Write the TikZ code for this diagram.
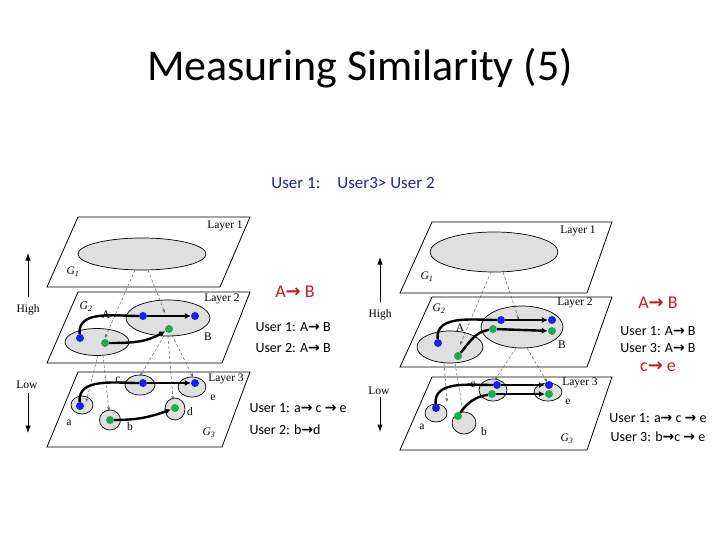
\documentclass[tikz,border=0pt]{standalone}
\usepackage{fontspec}
\setmainfont{Liberation Serif}
\newfontfamily\slidefont{Carlito}
\newfontfamily\symbfont{DejaVu Sans}
\usetikzlibrary{arrows.meta,shapes.geometric}
\tikzset{>=Latex}
\definecolor{dotblue}{RGB}{30,30,230}
\definecolor{dotgreen}{RGB}{30,170,80}
\definecolor{headblue}{RGB}{35,35,160}
\definecolor{slidered}{RGB}{190,30,40}
\newcommand\tto{{\symbfont\bfseries\char"2192}}
\tikzset{
  plane/.style = {draw, line width=0.8pt, fill=white},
  grp/.style = {ellipse, draw, fill=gray!25, line width=0.7pt, inner sep=0pt},
  bdot/.style = {circle, fill=dotblue, inner sep=0pt, minimum size=8pt},
  gdot/.style = {bdot, fill=dotgreen},
  flow/.style = {->, line width=2.4pt, >={Latex[length=6pt,width=6pt]}},
  proj/.style = {->, densely dashed, gray!80!black, line width=0.5pt, >={Stealth[length=4pt,width=3pt]}},
  lbl/.style = {font=\fontsize{11.5}{13}\selectfont},
  note/.style = {font=\slidefont\fontsize{14}{16}\selectfont},
  hint/.style = {font=\slidefont\fontsize{18}{20}\selectfont, text=slidered}
}

\begin{document}
\begin{tikzpicture}[x=1pt,y=-1pt]
  \useasboundingbox (0,0) rectangle (720,540);
  % title
  \node[font=\slidefont\fontsize{44}{50}\selectfont] (title) at (360,68) {Measuring Similarity (5)};
  \node[font=\slidefont\fontsize{17}{19}\selectfont, text=headblue] (rank) at (353,183) {User 1:\quad User3> User 2};

  %%% left figure
  % layers
  \draw[plane] (78,217) -- (250,217) -- (220,287) -- (47,287) -- cycle;
  \draw[plane] (78,292) -- (250,292) -- (222,363) -- (47,363) -- cycle;
  \draw[plane] (78,372) -- (250,372) -- (222,447) -- (47,447) -- cycle;
  \node[lbl] (l1) at (225,226) {Layer 1};
  \node[lbl] (l2) at (222,299) {Layer 2};
  \node[lbl] (l3) at (226,379) {Layer 3};
  \node[lbl] (g1) at (73,272) {\textit{G}\textsubscript{\textit{1}}};
  \node[lbl] (g2) at (86,307) {\textit{G}\textsubscript{\textit{2}}};
  \node[lbl] (g3) at (209,433) {\textit{G}\textsubscript{\textit{3}}};
  % groups
  \node[grp, minimum width=128pt, minimum height=32pt] (top) at (142,254) {};
  \node[grp, minimum width=64pt, minimum height=27pt] (ga) at (97,342) {};
  \node[grp, minimum width=84pt, minimum height=36pt] (gb) at (168,318) {};
  \node[grp, minimum width=30pt, minimum height=20pt] (gc) at (140,385) {};
  \node[grp, minimum width=28pt, minimum height=20pt] (ge) at (192,387) {};
  \node[grp, minimum width=22pt, minimum height=18pt] (g-a) at (82,405) {};
  \node[grp, minimum width=21pt, minimum height=20pt] (g-b) at (110,420) {};
  \node[grp, minimum width=20pt, minimum height=22pt] (gd) at (175,409) {};
  \node[lbl] (la) at (106,315) {A};
  \node[lbl] (lb) at (208,337) {B};
  \node[lbl] (lc) at (118,380) {c};
  \node[lbl] (le) at (213,398) {e};
  \node[lbl] (l-a) at (69,423) {a};
  \node[lbl] (l-b) at (130,427) {b};
  \node[lbl] (ld) at (190,412) {d};
  % projections
  \draw[proj] (135,270) -- (105,338);
  \draw[proj] (148,270) -- (165,313);
  \draw[proj] (98,355) -- (86,402);
  \draw[proj] (103,355) -- (109,411);
  \draw[proj] (164,336) -- (140,376);
  \draw[proj] (168,336) -- (173,400);
  \draw[proj] (172,335) -- (193,377);
  % users
  \node[bdot] (b1) at (80,338) {};
  \node[bdot] (b2) at (143,316) {};
  \node[bdot] (b3) at (195,316) {};
  \node[gdot] (v1) at (105,343) {};
  \node[gdot] (v2) at (169,329) {};
  \node[bdot] (b4) at (143,383) {};
  \node[bdot] (b5) at (195,383) {};
  \node[bdot] (b6) at (80,406) {};
  \node[gdot] (v3) at (110,420) {};
  \node[gdot] (v4) at (175,408) {};
  \draw[line width=2.4pt] (b1) to[out=95,in=180] (b2);
  \draw[flow] (b2) -- (b3);
  \draw[flow] (v1) to[out=0,in=210] (v2);
  \draw[line width=2.4pt] (b6) to[out=95,in=180] (b4);
  \draw[flow] (b4) -- (b5);
  \draw[flow] (v3) to[out=0,in=200] (v4);
  % level arrows
  \draw[->, line width=1pt] (28,297) -- (28,253);
  \draw[->, line width=1pt] (28,393) -- (28,433);
  \node[lbl] (high) at (28,310) {High};
  \node[lbl] (low) at (27,385) {Low};

  %%% right figure
  \draw[plane] (432,222) -- (612,222) -- (587,293) -- (400,293) -- cycle;
  \draw[plane] (432,297) -- (612,297) -- (587,367) -- (400,367) -- cycle;
  \draw[plane] (432,377) -- (612,377) -- (587,450) -- (400,450) -- cycle;
  \node[lbl] (r-l1) at (578,231) {Layer 1};
  \node[lbl] (r-l2) at (575,303) {Layer 2};
  \node[lbl] (r-l3) at (580,383) {Layer 3};
  \node[lbl] (r-g1) at (427,277) {\textit{G}\textsubscript{\textit{1}}};
  \node[lbl] (r-g2) at (439,309) {\textit{G}\textsubscript{\textit{2}}};
  \node[lbl] (r-g3) at (567,439) {\textit{G}\textsubscript{\textit{3}}};
  \node[grp, minimum width=128pt, minimum height=40pt] (r-top) at (494,252) {};
  \node[grp, minimum width=66pt, minimum height=32pt] (r-ga) at (450,347) {};
  \node[grp, minimum width=82pt, minimum height=42pt] (r-gb) at (522,327) {};
  \node[grp, minimum width=28pt, minimum height=22pt] (r-gc) at (493,390) {};
  \node[grp, minimum width=28pt, minimum height=18pt] (r-ge) at (548,392) {};
  \node[grp, minimum width=22pt, minimum height=18pt] (r-g-a) at (436,413) {};
  \node[grp, minimum width=24pt, minimum height=22pt] (r-g-b) at (464,423) {};
  \node[lbl] (r-la) at (460,328) {A};
  \node[lbl] (r-lb) at (562,345) {B};
  \node[lbl] (r-lc) at (473,385) {c};
  \node[lbl] (r-le) at (568,402) {e};
  \node[lbl] (r-l-a) at (422,427) {a};
  \node[lbl] (r-l-b) at (484,432) {b};
  % projections
  \draw[proj] (491,272) -- (460,345);
  \draw[proj] (503,272) -- (519,320);
  \draw[proj] (444,363) -- (447,402);
  \draw[proj] (455,363) -- (463,412);
  \draw[proj] (516,348) -- (495,380);
  \draw[proj] (527,348) -- (547,382);
  % users
  \node[bdot] (r-b1) at (438,343) {};
  \node[bdot] (r-b2) at (501,320) {};
  \node[bdot] (r-b3) at (552,320) {};
  \node[gdot] (r-v1) at (458,356) {};
  \node[gdot] (r-v2) at (493,329) {};
  \node[gdot] (r-v3) at (552,331) {};
  \node[bdot] (r-b4) at (497,385) {};
  \node[bdot] (r-b5) at (549,385) {};
  \node[bdot] (r-b6) at (436,408) {};
  \node[gdot] (r-v4) at (492,394) {};
  \node[gdot] (r-v5) at (549,394) {};
  \node[gdot] (r-v6) at (458,416) {};
  \draw[line width=2.4pt] (r-b1) to[out=95,in=180] (r-b2);
  \draw[flow] (r-b2) -- (r-b3);
  \draw[line width=2.4pt] (r-v1) to[out=50,in=190] (r-v2);
  \draw[flow] (r-v2) -- (r-v3);
  \draw[line width=2.4pt] (r-b6) to[out=95,in=180] (r-b4);
  \draw[flow] (r-b4) -- (r-b5);
  \draw[line width=2.4pt] (r-v6) to[out=55,in=190] (r-v4);
  \draw[flow] (r-v4) -- (r-v5);
  \draw[->, line width=1pt] (380,302) -- (380,257);
  \draw[->, line width=1pt] (380,397) -- (380,432);
  \node[lbl] (r-high) at (380,315) {High};
  \node[lbl] (r-low) at (379,391) {Low};

  %%% notes
  \node[hint] (m-ab) at (295,292) {A\tto{} B};
  \node[note, anchor=west] (m1) at (252,327) {User 1: A\tto{} B};
  \node[note, anchor=west] (m2) at (252,348) {User 2: A\tto{} B};
  \node[note, anchor=west] (m3) at (246,408) {User 1: a\tto{} c \tto{} e};
  \node[note, anchor=west] (m4) at (246,430) {User 2: b\tto d};
  \node[hint] (r-ab) at (658,303) {A\tto{} B};
  \node[note] (r1) at (658,331) {User 1: A\tto{} B};
  \node[note] (r2) at (658,348) {User 3: A\tto{} B};
  \node[hint] (r-ce) at (658,367) {c\tto{} e};
  \node[note] (r3) at (658,418) {User 1: a\tto{} c \tto{} e};
  \node[note] (r4) at (658,437) {User 3: b\tto c \tto{} e};
\end{tikzpicture}
\end{document}
